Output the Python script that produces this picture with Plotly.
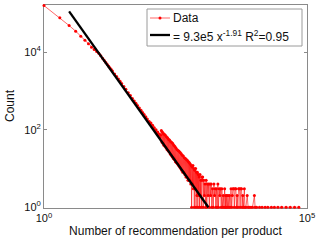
import plotly.graph_objects as go

# ---- data (x = recommendations per product, y = count) ----
head_x = [1, 2, 3, 4, 5, 6, 7, 8, 9, 10]
head_y = [160000, 78000, 49000, 35000, 26000, 20500, 16500, 13500, 11700, 10400]

mid_x = [11, 12, 13, 14, 15, 16, 17, 18, 19, 20, 22, 24, 26, 28, 30, 33, 36, 40, 44, 48,
         52, 56, 60, 65, 70, 75, 80, 86, 92, 100, 104, 108, 112, 116, 120, 125, 130, 135,
         140, 145, 150, 155, 160, 165]
mid_y = [9500, 8100, 7000, 6150, 5450, 4850, 4380, 3950, 3600, 3300, 2750, 2380, 2050, 1780,
         1560, 1310, 1110, 905, 760, 645, 555, 485, 425, 362, 318, 280, 246, 215, 190, 163,
         148, 150, 128, 130, 112, 112, 96, 100, 82, 88, 72, 78, 62, 72]

band_x = [170, 174, 178, 182, 186, 190, 194, 198, 203, 208, 213, 218, 223, 228, 233, 238,
          244, 250, 256, 262, 268, 274, 280, 287, 294, 301, 308, 315, 322, 330, 338, 346,
          354, 362, 370, 379, 388, 397, 406, 415, 425, 435, 445, 455, 466, 477, 488, 499,
          510, 522, 534, 546, 558, 570]
band_y = [95, 48, 88, 45, 80, 40, 76, 38, 72, 35, 66, 31, 62, 29, 57, 27, 54, 24, 50, 22,
          47, 20, 44, 18, 40, 17, 37, 15, 34, 14, 31, 13, 29, 12, 28, 11, 26, 10, 24, 9,
          22, 8, 21, 8, 19, 7, 18, 6, 17, 6, 16, 5, 15, 5]

spread_x = [580, 592, 604, 616, 628, 640, 653, 666, 679, 692, 706, 720, 734, 748, 763, 778,
            793, 808, 824, 840, 856, 873, 890, 907, 925, 943, 961, 980, 1000]
spread_y = [14, 5, 13, 4, 12, 1, 11, 4, 12, 3, 10, 1, 9, 3, 10, 1, 8, 2, 8, 1, 7, 2, 6, 1,
            7, 2, 5, 1, 6]

low_x = [1020, 1040, 1060, 1090, 1120, 1150, 1180, 1210, 1245, 1280, 1315, 1350, 1390, 1430,
         1470, 1510, 1550, 1600, 1650, 1700, 1750, 1800, 1850, 1900, 1960, 2020, 2080, 2140,
         2200, 2270, 2340, 2410, 2480, 2560, 2640, 2720, 2800]
low_y = [5, 6, 1, 5, 2, 4, 1, 5, 1, 4, 2, 4, 1, 4, 2, 4, 1, 3, 1, 4, 2, 3, 1, 3, 1, 4, 1, 3,
         2, 3, 1, 3, 1, 2, 1, 3, 1]

tail_x = [2850, 2900, 2980, 3060, 3150, 3250, 3350, 3450, 3590, 3700, 3800, 3900, 4050, 4150,
          4300, 4450, 4550, 4700, 4850, 5000, 5200, 5350, 5500, 5700, 5850, 6000, 6200, 6440,
          6600, 6900, 7300, 7600, 8000, 8600, 9200, 10000, 10300, 11000, 12500, 14000, 16000,
          18000, 21000, 24000, 28000, 33000, 40000, 48000, 58000, 70000]
tail_y = [2, 1, 2, 1, 2, 1, 2, 1, 3, 1, 2, 3, 3, 1, 3, 3, 1, 2, 1, 3, 3, 1, 3, 3, 1, 2, 1, 3,
          1, 1, 2, 1, 1, 1, 1, 2, 1, 1, 1, 1, 1, 1, 1, 1, 1, 1, 1, 1, 1, 1]

# power-law fit shown in the legend
fit_a = 9.3e5
fit_b = -1.91
fit_r2 = 0.95
fit_x = [3, 1334]

x_ticks = [1, 1e5]
x_ticktext = ["10<sup>0</sup>", "10<sup>5</sup>"]
y_ticks = [1, 100, 10000]
y_ticktext = ["10<sup>0</sup>", "10<sup>2</sup>", "10<sup>4</sup>"]

data_x = head_x + mid_x + band_x + spread_x + low_x + tail_x
data_y = head_y + mid_y + band_y + spread_y + low_y + tail_y
fit_y = [fit_a * v ** fit_b for v in fit_x]

FONT = "Liberation Sans, Arial, Helvetica, sans-serif"
AXC = "#8a8a8a"

fig = go.Figure()
fig.add_trace(go.Scatter(
    x=data_x, y=data_y, mode="lines+markers", name="Data",
    line=dict(color="rgba(255,0,0,0.75)", width=0.8),
    marker=dict(color="#ff0000", size=3),
    cliponaxis=False, showlegend=False))
fig.add_trace(go.Scatter(
    x=fit_x, y=fit_y, mode="lines",
    name="= 9.3e5 x<sup>-1.91</sup> R<sup>2</sup>=0.95",
    line=dict(color="#000000", width=2.3), showlegend=False))

# legend box drawn by hand (MATLAB style)
L, R, T, B = 44, 307, 5, 208
def px(xp):
    return (xp - L) / (R - L)
def py(yp):
    return (B - yp) / (B - T)

shapes = [
    dict(type="rect", xref="paper", yref="paper", x0=px(147), x1=px(302), y0=py(46), y1=py(9),
         line=dict(color="#9a9a9a", width=1), fillcolor="white", layer="above"),
    dict(type="line", xref="paper", yref="paper", x0=px(150), x1=px(170), y0=py(18), y1=py(18),
         line=dict(color="rgba(255,0,0,0.75)", width=0.8), layer="above"),
    dict(type="circle", xref="paper", yref="paper", x0=px(158.5), x1=px(161.5),
         y0=py(19.5), y1=py(16.5), line=dict(width=0), fillcolor="#ff0000", layer="above"),
    dict(type="line", xref="paper", yref="paper", x0=px(150), x1=px(170), y0=py(35), y1=py(35),
         line=dict(color="#000000", width=2.3), layer="above"),
]
annotations = [
    dict(xref="paper", yref="paper", x=px(170.5), y=py(18), xanchor="left", yanchor="middle",
         text="Data", showarrow=False, font=dict(family=FONT, size=12, color="#111")),
    dict(xref="paper", yref="paper", x=px(170.5), y=py(36), xanchor="left", yanchor="middle",
         text="= %.1fe5 x<sup>%.2f</sup> R<sup>2</sup>=%.2f" % (fit_a / 1e5, fit_b, fit_r2),
         showarrow=False, font=dict(family=FONT, size=12, color="#111")),
    dict(xref="paper", yref="paper", x=px(10), y=py(106), xanchor="center", yanchor="middle",
         text="Count", textangle=-90, showarrow=False,
         font=dict(family=FONT, size=12, color="#111")),
]

fig.update_layout(
    width=319, height=241,
    margin=dict(l=L, r=319 - R, t=T, b=241 - B),
    paper_bgcolor="white", plot_bgcolor="white",
    font=dict(family=FONT, size=11, color="#111"),
    shapes=shapes, annotations=annotations, showlegend=False,
)
fig.update_xaxes(
    type="log", range=[0, 5], tickvals=x_ticks, ticktext=x_ticktext,
    showgrid=False, zeroline=False, showline=True, linecolor=AXC, linewidth=1, mirror="ticks",
    ticks="inside", ticklen=3, tickcolor=AXC, layer="below traces",
    title=dict(text="Number of recommendation per product", standoff=3,
               font=dict(family=FONT, size=12, color="#111")),
    tickfont=dict(family=FONT, size=11, color="#111"))
fig.update_yaxes(
    type="log", range=[-0.02, 5.22], tickvals=y_ticks, ticktext=y_ticktext,
    showgrid=False, zeroline=False, showline=True, linecolor=AXC, linewidth=1, mirror="ticks",
    ticks="inside", ticklen=3, tickcolor=AXC, layer="below traces",
    tickfont=dict(family=FONT, size=11, color="#111"))

fig.write_html("out.html", config={"displayModeBar": False},
               post_script="document.body.style.margin='0';document.body.style.padding='0';"
                           "document.body.style.overflow='hidden';")
